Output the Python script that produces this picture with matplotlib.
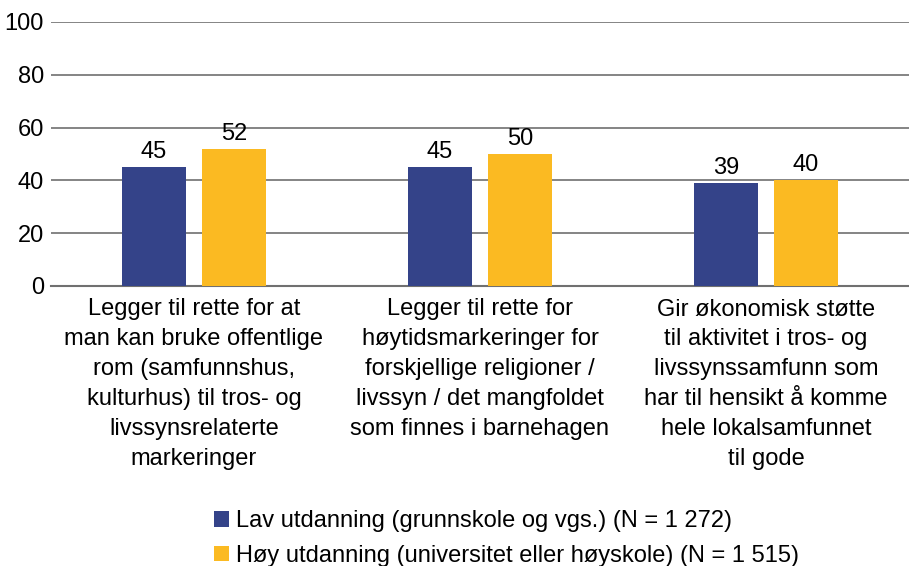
import numpy as np
import matplotlib.pyplot as plt

plt.rcParams['font.family'] = ['Liberation Sans', 'DejaVu Sans']

# Data
categories = [
    "Legger til rette for at\nman kan bruke offentlige\nrom (samfunnshus,\nkulturhus) til tros- og\nlivssynsrelaterte\nmarkeringer",
    "Legger til rette for\nhøytidsmarkeringer for\nforskjellige religioner /\nlivssyn / det mangfoldet\nsom finnes i barnehagen",
    "Gir økonomisk støtte\ntil aktivitet i tros- og\nlivssynssamfunn som\nhar til hensikt å komme\nhele lokalsamfunnet\ntil gode",
]
lav = [45, 45, 39]
hoy = [52, 50, 40]
series_names = [
    "Lav utdanning (grunnskole og vgs.) (N = 1 272)",
    "Høy utdanning (universitet eller høyskole) (N = 1 515)",
]
yticks = [0, 20, 40, 60, 80, 100]

blue = '#344389'
yellow = '#FBBA22'
fs = 17

fig = plt.figure(figsize=(9.09, 5.66), dpi=100)
ax = fig.add_axes([51 / 909, 1 - 286 / 566, 1 - 51 / 909, 264 / 566])

x = np.arange(len(categories))
w = 64 / 286
off = 40 / 286

b1 = ax.bar(x - off, lav, w, color=blue, zorder=3, label=series_names[0])
b2 = ax.bar(x + off, hoy, w, color=yellow, zorder=3, label=series_names[1])

for bars in (b1, b2):
    for rect in bars:
        h = rect.get_height()
        ax.annotate(f"{h:.0f}", (rect.get_x() + rect.get_width() / 2, h),
                    xytext=(0, 3), textcoords='offset points',
                    ha='center', va='bottom', fontsize=fs)

ax.set_xlim(-0.5, 2.5)
ax.set_ylim(0, 100)
ax.set_yticks(yticks)
ax.yaxis.grid(True, color='#707070', linewidth=1.2, zorder=0)
ax.tick_params(axis='y', length=0, labelsize=fs, pad=5)
ax.tick_params(axis='x', length=0, labelsize=fs, pad=9)
ax.set_xticks(x)
ax.set_xticklabels(categories, linespacing=1.46)
for s in ['top', 'right', 'left']:
    ax.spines[s].set_visible(False)
ax.spines['bottom'].set_color('#707070')
ax.spines['bottom'].set_linewidth(1.5)

fig.legend(handles=[b1, b2], loc='upper left', bbox_to_anchor=(193 / 909, 1 - 489 / 566),
           frameon=False, fontsize=fs, handlelength=0.64, handleheight=0.64,
           handletextpad=0.27, labelspacing=0.53)

fig.savefig('out.png', dpi=100)
